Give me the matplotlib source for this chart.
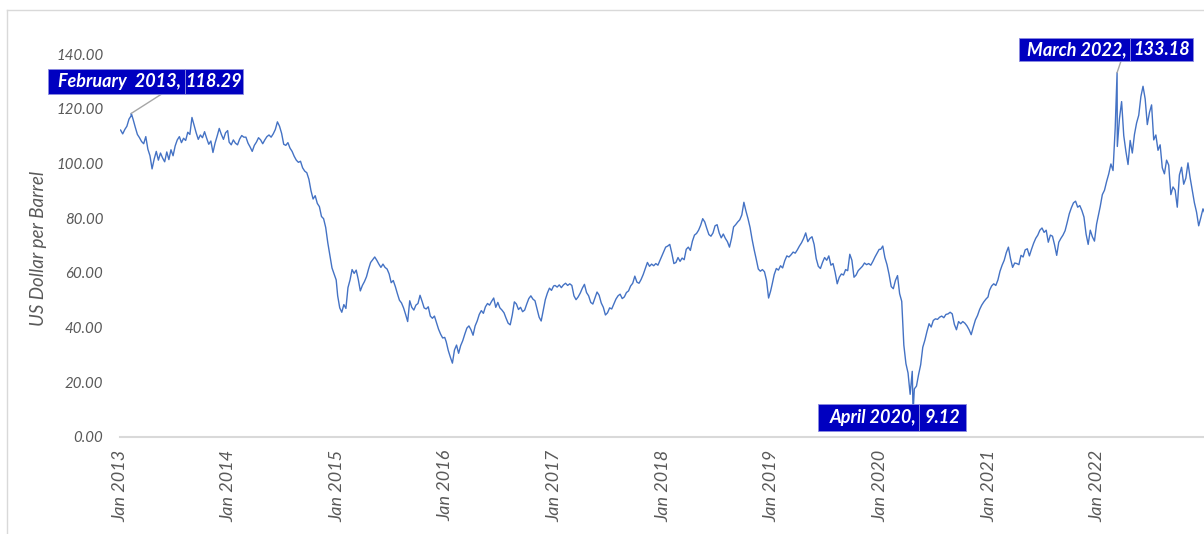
import numpy as np
import pandas as pd
import matplotlib
matplotlib.use("Agg")
import matplotlib.pyplot as plt
from matplotlib.lines import Line2D
from matplotlib.patches import Rectangle

# ---- data (weekly readings of the Brent spot price, US$ per barrel) ----
prices_2013 = [112.2, 110.8, 112.4, 113.6, 116.2, 117.4, 116.0, 113.2, 110.6, 109.4, 108.0, 107.2, 109.8,
               105.2, 102.8, 98.0, 101.6, 104.4, 101.2, 103.8, 102.0, 100.6, 104.2, 101.4, 105.0, 102.8,
               106.4, 108.6, 109.8, 107.6, 109.2, 108.4, 111.4, 110.6, 116.8, 114.0, 111.2, 108.8, 110.4,
               109.4, 111.6, 109.2, 107.0, 108.2, 104.0, 107.4, 110.0, 112.8, 110.6, 108.8, 111.2, 112.0]
prices_2014 = [107.8, 106.8, 108.6, 107.4, 106.8, 108.9, 110.2, 109.6, 109.6, 107.4, 106.0, 104.4,
               106.6, 107.8, 109.4, 108.6, 107.2, 108.6, 109.8, 110.4, 109.6, 110.8, 112.4, 115.2, 113.6,
               111.0, 107.0, 106.6, 107.6, 105.6, 104.4, 102.6, 101.2, 100.4, 100.8, 98.4, 97.2, 96.6,
               94.2, 90.0, 87.0, 88.2, 85.4, 84.2, 80.6, 79.8, 76.6, 71.0, 66.4, 61.8, 59.6, 57.4]
prices_2015 = [51.6, 47.2, 45.6, 48.4, 47.0, 54.6, 57.4, 61.2, 59.8, 61.0, 57.6, 53.4, 55.4,
               56.8, 58.6, 61.4, 63.8, 64.8, 65.8, 64.6, 63.2, 62.0, 63.2, 62.0, 61.4, 59.6,
               56.4, 57.2, 55.0, 52.4, 50.0, 49.0, 47.2, 44.8, 42.2, 49.8, 47.4, 46.4, 48.2,
               48.8, 51.8, 49.6, 47.2, 46.8, 47.6, 44.2, 43.4, 44.2, 41.8, 39.4, 37.6, 36.2, 36.4]
prices_2016 = [34.8, 31.6, 29.2, 27.0, 31.8, 33.6, 30.6, 33.4, 35.2, 37.6, 39.8, 40.6, 39.2,
               37.2, 40.6, 42.4, 44.8, 46.2, 45.2, 47.6, 48.8, 48.2, 49.6, 50.8, 47.4, 49.2,
               47.2, 46.4, 45.4, 43.4, 41.6, 41.0, 44.6, 49.4, 48.6, 46.6, 47.4, 45.8, 46.4, 48.6,
               50.6, 51.6, 50.4, 49.8, 46.8, 43.8, 42.4, 46.4, 50.2, 52.6, 54.4, 53.6, 55.2]
prices_2017 = [55.4, 54.8, 55.6, 54.6, 55.6, 56.2, 55.4, 56.0, 55.4, 51.6, 50.2, 51.2, 52.6,
               54.4, 55.8, 52.8, 51.6, 49.2, 48.6, 50.8, 53.0, 51.8, 49.0, 47.4, 44.6, 45.4,
               47.2, 46.8, 48.6, 50.4, 51.6, 52.2, 50.6, 51.2, 52.8, 53.4, 55.2, 56.2, 58.8,
               56.6, 56.2, 57.6, 59.4, 61.6, 63.8, 62.4, 63.2, 62.6, 63.4, 62.8, 64.6, 66.4]
prices_2018 = [67.6, 69.4, 69.8, 70.4, 67.2, 63.4, 63.8, 65.6, 64.2, 65.4, 64.8, 68.6, 69.4,
               68.2, 71.6, 73.8, 74.4, 75.6, 77.4, 79.8, 78.6, 76.2, 74.0, 73.4, 74.6, 77.2,
               77.6, 74.6, 72.8, 74.2, 72.6, 71.4, 69.4, 72.6, 76.8, 77.6, 78.6, 79.4, 81.2,
               85.8, 82.6, 79.8, 76.6, 72.2, 68.4, 65.0, 61.4, 60.6, 61.2, 60.4, 57.2, 50.8, 53.4]
prices_2019 = [55.8, 59.4, 61.6, 61.0, 62.6, 61.8, 64.4, 66.2, 65.8, 66.6, 67.6, 67.2, 68.4,
               69.8, 71.0, 72.6, 74.6, 71.4, 72.6, 73.2, 70.4, 65.2, 62.4, 61.6, 63.8, 65.6,
               64.6, 66.2, 62.8, 63.4, 60.2, 56.0, 58.4, 59.6, 59.2, 61.2, 60.8, 66.8, 64.6,
               58.4, 59.2, 60.8, 61.6, 62.4, 63.6, 63.0, 63.4, 62.8, 64.2, 65.8, 67.2, 68.6]
prices_2020 = [68.6, 69.8, 65.6, 63.0, 59.4, 55.0, 54.2, 57.2, 59.0, 52.4, 49.6, 33.6, 26.8,
               23.4, 15.6, 24.0, 17.6, 18.6, 22.8, 26.4, 32.8, 35.4, 38.6, 41.4, 40.2, 42.6,
               43.2, 43.0, 43.8, 44.2, 43.6, 44.8, 45.0, 45.6, 45.0, 41.2, 39.2, 42.2, 41.4,
               42.2, 41.6, 40.6, 39.2, 37.4, 40.2, 42.8, 44.4, 46.6, 48.2, 49.4, 50.4, 51.2]
prices_2021 = [53.6, 55.2, 56.0, 55.4, 57.4, 60.6, 62.8, 64.6, 67.4, 69.4, 65.2, 62.0, 63.6,
               63.4, 63.0, 66.4, 65.8, 68.4, 68.8, 66.2, 68.6, 70.8, 72.6, 73.8, 75.6, 76.4,
               74.8, 75.6, 71.2, 73.8, 73.4, 70.2, 66.4, 71.2, 72.6, 73.8, 75.4, 78.4,
               81.6, 83.8, 85.6, 86.2, 84.0, 84.6, 82.8, 80.4, 74.2, 70.4, 75.6, 73.2, 71.6, 77.8]
prices_2022 = [80.4, 84.2, 88.6, 90.2, 93.4, 96.2, 99.8, 97.4, 112.8, 106.2, 116.4, 122.6,
               110.2, 104.4, 99.6, 108.4, 103.8, 110.6, 114.8, 117.6, 124.4, 128.2, 123.6, 114.2, 118.6,
               121.4, 108.6, 110.4, 104.8, 106.8, 98.4, 96.2, 101.2, 99.4, 88.6, 91.4, 90.2, 84.0,
               95.8, 98.6, 92.4, 94.6, 100.2, 94.8, 90.2, 85.6, 82.2, 77.2, 80.2, 83.4, 81.6]

years = [2013, 2014, 2015, 2016, 2017, 2018, 2019, 2020, 2021, 2022]
yearly_prices = [prices_2013, prices_2014, prices_2015, prices_2016, prices_2017,
                 prices_2018, prices_2019, prices_2020, prices_2021, prices_2022]

extreme_dates = ["2013-02-08", "2020-04-21", "2022-03-08"]
extreme_values = [118.29, 9.12, 133.18]
extreme_month_labels = ["February  2013,", "April 2020,", "March 2022,"]
extreme_value_labels = ["118.29", "9.12", "133.18"]

y_ticks = [0, 20, 40, 60, 80, 100, 120, 140]
x_tick_years = list(range(2013, 2023))
x_tick_labels = [f"Jan {y}" for y in x_tick_years]

# ---- build series ----
parts = []
for yr, vals in zip(years, yearly_prices):
    idx = pd.date_range(f"{yr}-01-03", f"{yr}-12-29", periods=len(vals))
    parts.append(pd.Series(vals, index=idx))
parts.append(pd.Series(extreme_values, index=pd.to_datetime(extreme_dates)))
series = pd.concat(parts).sort_index()

# ---- figure ----
W, H = 1204, 534
fig = plt.figure(figsize=(W / 100, H / 100), dpi=100)
fig.patch.set_facecolor("white")
ax_left, ax_right = 120, 1206
ax_bottom, ax_top = 437, 54
ax = fig.add_axes([ax_left / W, (H - ax_bottom) / H, (ax_right - ax_left) / W, (ax_bottom - ax_top) / H])

ax.plot(series.index, series.values, color="#4472C4", lw=1.0, zorder=2)

ax.set_ylim(0, 140)
ax.set_xlim(pd.Timestamp("2013-01-01"), pd.Timestamp("2023-01-01"))

FONT = "Lato"
GRAY = "#595959"
ax.set_yticks(y_ticks)
ax.set_yticklabels([f"{v:.2f}" for v in y_ticks], fontsize=10.8, fontstyle="italic",
                   family=FONT, color=GRAY)
ax.set_xticks([pd.Timestamp(f"{y}-01-01") for y in x_tick_years])
ax.set_xticklabels(x_tick_labels, rotation=90, fontsize=13, fontstyle="italic",
                   family=FONT, color=GRAY)
ax.tick_params(axis="both", length=0)
ax.tick_params(axis="y", pad=12)
ax.tick_params(axis="x", pad=9)

for side in ["top", "right", "left"]:
    ax.spines[side].set_visible(False)
ax.spines["bottom"].set_color("#D9D9D9")
ax.spines["bottom"].set_linewidth(1.5)
ax.spines["bottom"].set_zorder(1)

fig.text(39 / W, (H - 248) / H, "US Dollar per Barrel", rotation=90, ha="center", va="center",
         fontsize=13.5, fontstyle="italic", family=FONT, color=GRAY)

# chart-area border (top and left edges visible)
fig.add_artist(Line2D([7 / W, 7 / W], [0, (H - 10) / H], color="#D9D9D9", lw=1.0))
fig.add_artist(Line2D([7 / W, 1], [(H - 10) / H, (H - 10) / H], color="#D9D9D9", lw=1.0))

# ---- annotations (boxes in image pixels: left, separator, right, top, bottom) ----
BOX = "#0000C0"
fs_lab = 13
box_geom = [(48, 184.5, 243, 69, 94), (818, 919, 966, 404, 431), (1019, 1130, 1193, 38, 61)]
leader_end = [(161.7, 94.0), None, (1121.0, 61.0)]

for d, v, ml, vl, (x0, xs, x1, y0, y1), le in zip(extreme_dates, extreme_values, extreme_month_labels,
                                                  extreme_value_labels, box_geom, leader_end):
    if le is not None:
        ax.annotate("", xy=(pd.Timestamp(d), v), xycoords="data",
                    xytext=(le[0], H - le[1]), textcoords="figure pixels",
                    arrowprops=dict(arrowstyle="-", color="#A6A6A6", lw=1.0,
                                    shrinkA=0, shrinkB=0), zorder=3, annotation_clip=False)
    for a, b in [(x0, xs), (xs, x1)]:
        fig.add_artist(Rectangle((a / W, (H - y1) / H), (b - a) / W, (y1 - y0) / H,
                                 transform=fig.transFigure, facecolor=BOX,
                                 edgecolor="#8C8CE0", lw=0.6, zorder=5))
    cy = (H - (y0 + y1) / 2) / H
    fig.text((xs - 3) / W, cy, ml, ha="right", va="center", fontsize=fs_lab, fontweight="bold",
             fontstyle="italic", family=FONT, color="white", zorder=6)
    fig.text(((xs + x1) / 2) / W, cy, vl, ha="center", va="center", fontsize=fs_lab, fontweight="bold",
             fontstyle="italic", family=FONT, color="white", zorder=6)

fig.savefig("out.png", dpi=100, facecolor="white")
